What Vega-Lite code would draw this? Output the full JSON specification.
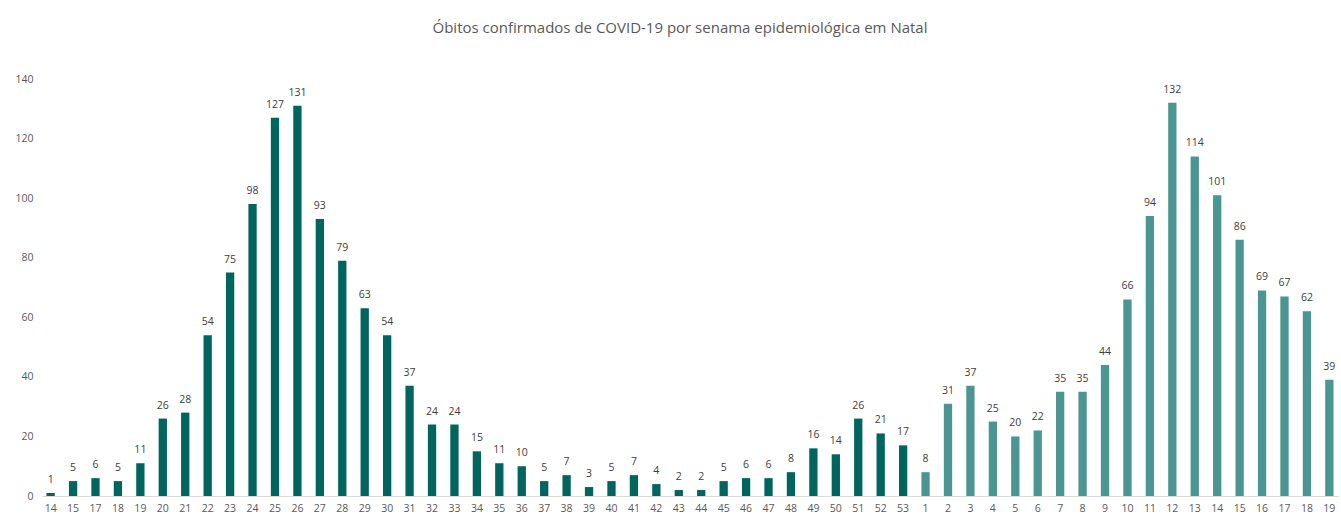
{
  "$schema": "https://vega.github.io/schema/vega-lite/v6.json",
  "autosize": "none",
  "width": 1296,
  "height": 417,
  "padding": {"left": 42, "top": 79, "right": 3, "bottom": 27},
  "background": "white",
  "title": {
    "text": "Óbitos confirmados de COVID-19 por senama epidemiológica em Natal",
    "fontSize": 15,
    "font": "Open Sans",
    "fontWeight": "normal",
    "color": "#595959",
    "anchor": "middle",
    "dx": -10,
    "offset": 38
  },
  "data": {
    "values": [
      {"semana": "2020-14", "ano": "2020", "obitos": 1},
      {"semana": "2020-15", "ano": "2020", "obitos": 5},
      {"semana": "2020-17", "ano": "2020", "obitos": 6},
      {"semana": "2020-18", "ano": "2020", "obitos": 5},
      {"semana": "2020-19", "ano": "2020", "obitos": 11},
      {"semana": "2020-20", "ano": "2020", "obitos": 26},
      {"semana": "2020-21", "ano": "2020", "obitos": 28},
      {"semana": "2020-22", "ano": "2020", "obitos": 54},
      {"semana": "2020-23", "ano": "2020", "obitos": 75},
      {"semana": "2020-24", "ano": "2020", "obitos": 98},
      {"semana": "2020-25", "ano": "2020", "obitos": 127},
      {"semana": "2020-26", "ano": "2020", "obitos": 131},
      {"semana": "2020-27", "ano": "2020", "obitos": 93},
      {"semana": "2020-28", "ano": "2020", "obitos": 79},
      {"semana": "2020-29", "ano": "2020", "obitos": 63},
      {"semana": "2020-30", "ano": "2020", "obitos": 54},
      {"semana": "2020-31", "ano": "2020", "obitos": 37},
      {"semana": "2020-32", "ano": "2020", "obitos": 24},
      {"semana": "2020-33", "ano": "2020", "obitos": 24},
      {"semana": "2020-34", "ano": "2020", "obitos": 15},
      {"semana": "2020-35", "ano": "2020", "obitos": 11},
      {"semana": "2020-36", "ano": "2020", "obitos": 10},
      {"semana": "2020-37", "ano": "2020", "obitos": 5},
      {"semana": "2020-38", "ano": "2020", "obitos": 7},
      {"semana": "2020-39", "ano": "2020", "obitos": 3},
      {"semana": "2020-40", "ano": "2020", "obitos": 5},
      {"semana": "2020-41", "ano": "2020", "obitos": 7},
      {"semana": "2020-42", "ano": "2020", "obitos": 4},
      {"semana": "2020-43", "ano": "2020", "obitos": 2},
      {"semana": "2020-44", "ano": "2020", "obitos": 2},
      {"semana": "2020-45", "ano": "2020", "obitos": 5},
      {"semana": "2020-46", "ano": "2020", "obitos": 6},
      {"semana": "2020-47", "ano": "2020", "obitos": 6},
      {"semana": "2020-48", "ano": "2020", "obitos": 8},
      {"semana": "2020-49", "ano": "2020", "obitos": 16},
      {"semana": "2020-50", "ano": "2020", "obitos": 14},
      {"semana": "2020-51", "ano": "2020", "obitos": 26},
      {"semana": "2020-52", "ano": "2020", "obitos": 21},
      {"semana": "2020-53", "ano": "2020", "obitos": 17},
      {"semana": "2021-1", "ano": "2021", "obitos": 8},
      {"semana": "2021-2", "ano": "2021", "obitos": 31},
      {"semana": "2021-3", "ano": "2021", "obitos": 37},
      {"semana": "2021-4", "ano": "2021", "obitos": 25},
      {"semana": "2021-5", "ano": "2021", "obitos": 20},
      {"semana": "2021-6", "ano": "2021", "obitos": 22},
      {"semana": "2021-7", "ano": "2021", "obitos": 35},
      {"semana": "2021-8", "ano": "2021", "obitos": 35},
      {"semana": "2021-9", "ano": "2021", "obitos": 44},
      {"semana": "2021-10", "ano": "2021", "obitos": 66},
      {"semana": "2021-11", "ano": "2021", "obitos": 94},
      {"semana": "2021-12", "ano": "2021", "obitos": 132},
      {"semana": "2021-13", "ano": "2021", "obitos": 114},
      {"semana": "2021-14", "ano": "2021", "obitos": 101},
      {"semana": "2021-15", "ano": "2021", "obitos": 86},
      {"semana": "2021-16", "ano": "2021", "obitos": 69},
      {"semana": "2021-17", "ano": "2021", "obitos": 67},
      {"semana": "2021-18", "ano": "2021", "obitos": 62},
      {"semana": "2021-19", "ano": "2021", "obitos": 39}
    ]
  },
  "encoding": {
    "x": {
      "field": "semana",
      "type": "nominal",
      "sort": null,
      "scale": {"paddingInner": 0.63, "paddingOuter": 0.2},
      "axis": {
        "title": null,
        "labelAngle": 0,
        "labelExpr": "split(datum.value, '-')[1]",
        "labelFont": "Open Sans",
        "labelFontSize": 10.5,
        "labelColor": "#595959",
        "labelPadding": 7,
        "ticks": false,
        "domainColor": "#d9d9d9",
        "domainWidth": 1
      }
    },
    "y": {
      "field": "obitos",
      "type": "quantitative",
      "scale": {"domain": [0, 140]},
      "axis": {
        "title": null,
        "values": [0, 20, 40, 60, 80, 100, 120, 140],
        "grid": false,
        "domain": false,
        "ticks": false,
        "labelFont": "Open Sans",
        "labelFontSize": 10.5,
        "labelColor": "#595959",
        "labelPadding": 9
      }
    }
  },
  "layer": [
    {
      "mark": {"type": "bar"},
      "encoding": {
        "color": {
          "field": "ano",
          "type": "nominal",
          "scale": {"domain": ["2020", "2021"], "range": ["#00655f", "#4b9692"]},
          "legend": null
        }
      }
    },
    {
      "mark": {
        "type": "text",
        "dy": -13,
        "font": "Open Sans",
        "fontSize": 10.5,
        "color": "#404040"
      },
      "encoding": {
        "text": {"field": "obitos", "type": "quantitative"}
      }
    }
  ],
  "config": {
    "view": {"stroke": null}
  }
}
